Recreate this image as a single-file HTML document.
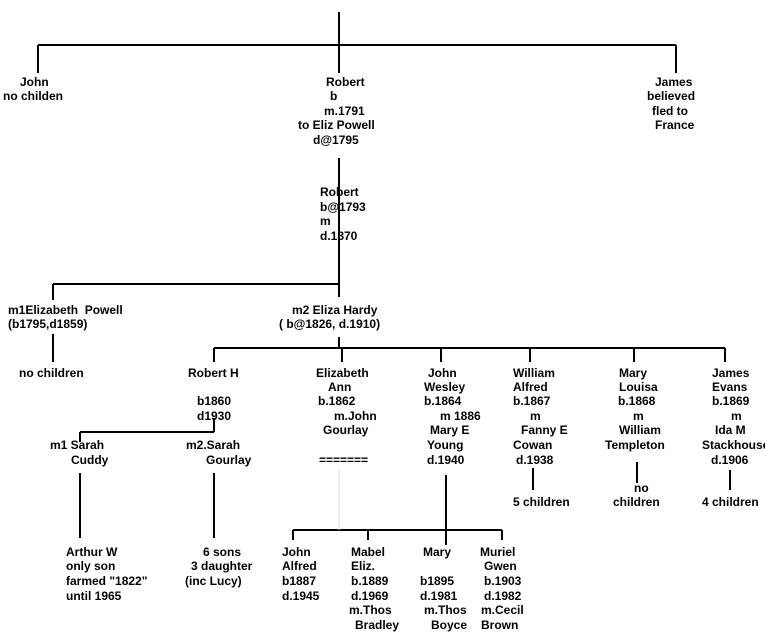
<!DOCTYPE html>
<html><head><meta charset="utf-8"><style>
body{margin:0;background:#fff;width:765px;height:636px;overflow:hidden;position:relative}
svg{position:absolute;left:0;top:0}
.t{position:absolute;font-family:"Liberation Sans",sans-serif;font-weight:bold;font-size:12px;line-height:14px;white-space:pre;color:#000}
</style></head><body>
<svg width="765" height="636" stroke="#000" stroke-width="2" fill="none">
<path d="M339 12V73M38 45H676M38 45V73M676 45V73"/>
<path d="M339 158V297M53 284H339M53 284V300"/>
<path d="M53 334V362M339 337V348M214 348H725M214 348V362M342 348V362M441 348V362M530 348V362M634 348V362M725 348V362"/>
<path d="M214 418V432M80 432H214M80 432V442"/>
<path d="M80 473V538M214 473V538"/>
<path d="M446 475V545M293 530H502M293 530V540M368 530V540M502 530V540"/>
<path d="M533 468V490M637 462V483M730 470V490"/>
<path d="M339 470V530" stroke="#ddd" stroke-width="1"/>
</svg>
<div class="t" style="left:20px;top:75px">John</div>
<div class="t" style="left:3px;top:89px">no childen</div>
<div class="t" style="left:326px;top:75px">Robert</div>
<div class="t" style="left:330px;top:89px">b</div>
<div class="t" style="left:324px;top:104px">m.1791</div>
<div class="t" style="left:298px;top:118px">to Eliz Powell</div>
<div class="t" style="left:313px;top:133px">d@1795</div>
<div class="t" style="left:655px;top:75px">James</div>
<div class="t" style="left:647px;top:89px">believed</div>
<div class="t" style="left:652px;top:104px">fled to</div>
<div class="t" style="left:655px;top:118px">France</div>
<div class="t" style="left:320px;top:185px">Robert</div>
<div class="t" style="left:320px;top:200px">b@1793</div>
<div class="t" style="left:320px;top:214px">m</div>
<div class="t" style="left:320px;top:229px">d.1870</div>
<div class="t" style="left:8px;top:303px">m1Elizabeth  Powell</div>
<div class="t" style="left:8px;top:317px">(b1795,d1859)</div>
<div class="t" style="left:292px;top:303px">m2 Eliza Hardy</div>
<div class="t" style="left:279px;top:317px">( b@1826, d.1910)</div>
<div class="t" style="left:19px;top:366px">no children</div>
<div class="t" style="left:188px;top:366px">Robert H</div>
<div class="t" style="left:197px;top:394px">b1860</div>
<div class="t" style="left:197px;top:409px">d1930</div>
<div class="t" style="left:50px;top:438px">m1 Sarah</div>
<div class="t" style="left:71px;top:453px">Cuddy</div>
<div class="t" style="left:186px;top:438px">m2.Sarah</div>
<div class="t" style="left:206px;top:453px">Gourlay</div>
<div class="t" style="left:316px;top:366px">Elizabeth</div>
<div class="t" style="left:328px;top:380px">Ann</div>
<div class="t" style="left:318px;top:394px">b.1862</div>
<div class="t" style="left:334px;top:409px">m.John</div>
<div class="t" style="left:323px;top:423px">Gourlay</div>
<div class="t" style="left:319px;top:453px">=======</div>
<div class="t" style="left:428px;top:366px">John</div>
<div class="t" style="left:424px;top:380px">Wesley</div>
<div class="t" style="left:424px;top:394px">b.1864</div>
<div class="t" style="left:440px;top:409px">m 1886</div>
<div class="t" style="left:430px;top:423px">Mary E</div>
<div class="t" style="left:427px;top:438px">Young</div>
<div class="t" style="left:427px;top:453px">d.1940</div>
<div class="t" style="left:513px;top:366px">William</div>
<div class="t" style="left:513px;top:380px">Alfred</div>
<div class="t" style="left:513px;top:394px">b.1867</div>
<div class="t" style="left:530px;top:409px">m</div>
<div class="t" style="left:521px;top:423px">Fanny E</div>
<div class="t" style="left:513px;top:438px">Cowan</div>
<div class="t" style="left:516px;top:453px">d.1938</div>
<div class="t" style="left:513px;top:495px">5 children</div>
<div class="t" style="left:619px;top:366px">Mary</div>
<div class="t" style="left:619px;top:380px">Louisa</div>
<div class="t" style="left:618px;top:394px">b.1868</div>
<div class="t" style="left:633px;top:409px">m</div>
<div class="t" style="left:619px;top:423px">William</div>
<div class="t" style="left:605px;top:438px">Templeton</div>
<div class="t" style="left:634px;top:481px">no</div>
<div class="t" style="left:613px;top:495px">children</div>
<div class="t" style="left:712px;top:366px">James</div>
<div class="t" style="left:712px;top:380px">Evans</div>
<div class="t" style="left:712px;top:394px">b.1869</div>
<div class="t" style="left:731px;top:409px">m</div>
<div class="t" style="left:715px;top:423px">Ida M</div>
<div class="t" style="left:702px;top:438px">Stackhouse</div>
<div class="t" style="left:711px;top:453px">d.1906</div>
<div class="t" style="left:702px;top:495px">4 children</div>
<div class="t" style="left:66px;top:545px">Arthur W</div>
<div class="t" style="left:66px;top:559px">only son</div>
<div class="t" style="left:66px;top:574px">farmed "1822"</div>
<div class="t" style="left:66px;top:589px">until 1965</div>
<div class="t" style="left:203px;top:545px">6 sons</div>
<div class="t" style="left:191px;top:559px">3 daughter</div>
<div class="t" style="left:185px;top:574px">(inc Lucy)</div>
<div class="t" style="left:282px;top:545px">John</div>
<div class="t" style="left:282px;top:559px">Alfred</div>
<div class="t" style="left:282px;top:574px">b1887</div>
<div class="t" style="left:282px;top:589px">d.1945</div>
<div class="t" style="left:351px;top:545px">Mabel</div>
<div class="t" style="left:351px;top:559px">Eliz.</div>
<div class="t" style="left:351px;top:574px">b.1889</div>
<div class="t" style="left:351px;top:589px">d.1969</div>
<div class="t" style="left:349px;top:603px">m.Thos</div>
<div class="t" style="left:355px;top:618px">Bradley</div>
<div class="t" style="left:423px;top:545px">Mary</div>
<div class="t" style="left:420px;top:574px">b1895</div>
<div class="t" style="left:420px;top:589px">d.1981</div>
<div class="t" style="left:424px;top:603px">m.Thos</div>
<div class="t" style="left:431px;top:618px">Boyce</div>
<div class="t" style="left:480px;top:545px">Muriel</div>
<div class="t" style="left:484px;top:559px">Gwen</div>
<div class="t" style="left:484px;top:574px">b.1903</div>
<div class="t" style="left:484px;top:589px">d.1982</div>
<div class="t" style="left:481px;top:603px">m.Cecil</div>
<div class="t" style="left:481px;top:618px">Brown</div>
</body></html>
